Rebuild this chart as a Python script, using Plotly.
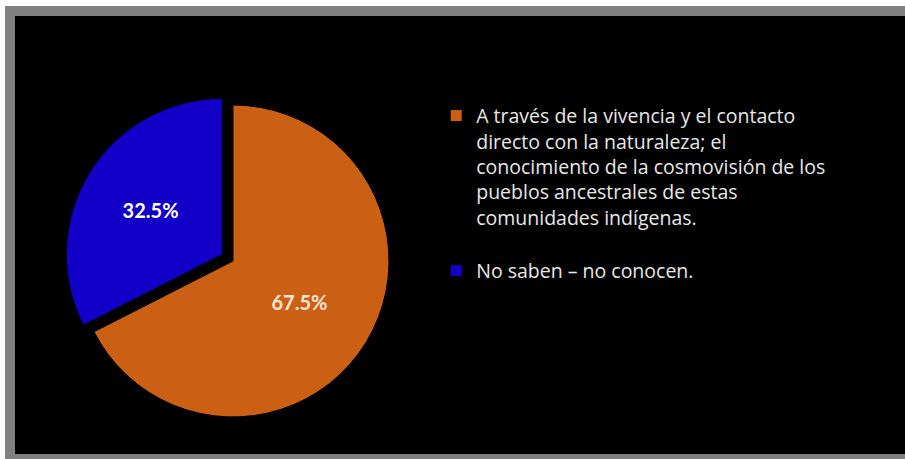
import plotly.graph_objects as go

# Data
labels = [
    "A través de la vivencia y el contacto<br>directo con la naturaleza; el<br>conocimiento de la cosmovisión de los<br>pueblos ancestrales de estas<br>comunidades indígenas.<br> ",
    "No saben – no conocen.",
]
values = [67.5, 32.5]
colors = ["#CB6015", "#1200C8"]
text_colors = ["#FFE6D0", "#FFFFFF"]
pulls = [0, 0.08]

W, H = 905, 459
GRAY = "#808080"

def px_rect(x0, x1, y0, y1, color):
    # pixel coordinates measured from the top-left corner of the figure
    return dict(type="rect", xref="paper", yref="paper", layer="below",
                x0=x0 / W, x1=x1 / W, y0=1 - y1 / H, y1=1 - y0 / H,
                fillcolor=color, line=dict(width=0))

fig = go.Figure(
    go.Pie(
        labels=labels,
        values=values,
        sort=False,
        direction="clockwise",
        rotation=0,
        pull=pulls,
        marker=dict(colors=colors, line=dict(color="#000000", width=1)),
        texttemplate="%{value:.1f}%",
        textposition="inside",
        insidetextorientation="horizontal",
        textfont=dict(family="Lato", size=20, color=text_colors, weight="bold"),
        domain=dict(x=[0.0713, 0.4436], y=[0.0643, 0.7985]),
        hoverinfo="label+percent",
    )
)

fig.update_layout(
    width=W,
    height=H,
    margin=dict(l=0, r=0, t=0, b=0),
    paper_bgcolor="#000000",
    plot_bgcolor="#000000",
    showlegend=True,
    legend=dict(
        x=0.482,
        y=0.79,
        xanchor="left",
        yanchor="top",
        bgcolor="rgba(0,0,0,0)",
        font=dict(family="Open Sans", size=19.5, color="#E8E8E8"),
        valign="top",
        traceorder="normal",
    ),
    shapes=[
        px_rect(0, W, 0, 6, "#FFFFFF"),
        px_rect(0, 5, 0, H, "#FFFFFF"),
        px_rect(5, W, 6, 16, GRAY),
        px_rect(5, 15, 6, H, GRAY),
        px_rect(5, W, 454, H, GRAY),
    ],
)

fig.write_html(
    "out.html",
    config={"displayModeBar": False},
    post_script=(
        "document.body.style.margin='0px';"
        "document.body.style.overflow='hidden';"
        "document.documentElement.style.overflow='hidden';"
    ),
)
